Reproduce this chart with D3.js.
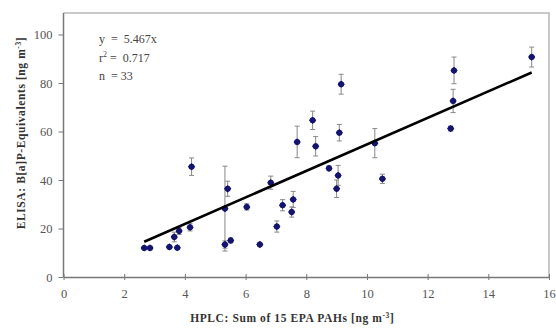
<!DOCTYPE html>
<html>
<head>
<meta charset="utf-8">
<script src="https://cdn.jsdelivr.net/npm/d3@7"></script>
<style>
  html, body { margin: 0; padding: 0; background: #fff; }
  svg { display: block; }
  text { font-family: "Liberation Serif", "DejaVu Serif", serif; }
</style>
</head>
<body>
<svg id="chart" width="556" height="330"></svg>
<script>
// HPLC sum of 15 EPA PAHs (ng m^-3)
const hplc = [2.66, 2.85, 3.49, 3.75, 3.65, 3.81, 4.17, 4.22, 5.32, 5.41, 5.32,
              5.51, 6.04, 6.47, 6.83, 7.03, 7.22, 7.52, 7.57, 7.70, 8.21, 8.31,
              8.75, 9.05, 9.00, 9.09, 9.15, 10.26, 10.51, 12.76, 12.84, 12.87, 15.43];
// ELISA B[a]P-equivalents (ng m^-3)
const elisa = [12.0, 12.0, 12.4, 12.1, 16.5, 19.0, 20.5, 45.5, 28.2, 36.4, 13.4,
               15.1, 28.9, 13.4, 38.9, 20.8, 29.6, 26.8, 32.0, 55.7, 64.6, 53.9,
               44.8, 41.9, 36.4, 59.5, 79.5, 55.2, 40.5, 61.2, 72.6, 85.2, 90.7];
// standard deviation of the ELISA replicates
const elisaSd = [0.5, 0.5, 0.5, 0.5, 2.0, 1.5, 1.5, 3.6, 17.5, 3.1, 1.5,
                 1.0, 1.3, 0.5, 2.7, 2.3, 2.3, 2.1, 3.3, 6.5, 3.8, 4.0,
                 1.0, 4.1, 3.6, 3.4, 4.1, 6.0, 1.9, 1.0, 4.8, 5.5, 4.1];

const xTicks = [0, 2, 4, 6, 8, 10, 12, 14, 16];
const yTicks = [0, 20, 40, 60, 80, 100];
const slope = 5.467;

const svg = d3.select("#chart");
const padL = 63.5, padR = 549, padB = 277, padT = 13;

const x = d3.scaleLinear().domain([0, 16]).range([padL, padR]);
const y = d3.scaleLinear().domain([0, 100]).range([padB, 34.5]);

// plot frame (light) on top and right
svg.append("path")
  .attr("d", `M${padL},${padT}H${padR}V${padB}`)
  .attr("fill", "none").attr("stroke", "#b8b8b8").attr("stroke-width", 1.5);

// y axis
const yAxis = svg.append("g").attr("transform", `translate(${padL},0)`)
  .call(d3.axisLeft(y).tickValues(yTicks).tickSize(5).tickPadding(6).tickSizeOuter(0));
yAxis.select(".domain").remove();
svg.append("line").attr("x1", padL).attr("x2", padL).attr("y1", padT).attr("y2", padB)
  .attr("stroke", "#777").attr("stroke-width", 1.5);

// x axis
const xAxis = svg.append("g").attr("transform", `translate(0,${padB})`)
  .call(d3.axisBottom(x).tickValues(xTicks).tickSize(3).tickPadding(9).tickSizeOuter(0));
xAxis.select(".domain").attr("stroke", "#777").attr("stroke-width", 1.5);
xAxis.selectAll(".tick line").attr("y1", -3);

svg.selectAll(".tick line").attr("stroke", "#777");
svg.selectAll(".tick text")
  .attr("fill", "#555").style("font-size", "12.5px")
  .style("font-family", "'Liberation Serif', serif");

// axis titles
const xt = svg.append("text")
  .attr("x", (padL + padR) / 2 - 14).attr("y", 322)
  .attr("text-anchor", "middle").attr("font-weight", "bold").attr("font-size", "11.5px")
  .attr("fill", "#333").attr("letter-spacing", "0.6px");
xt.append("tspan").text("HPLC: Sum of 15 EPA PAHs [ng m");
xt.append("tspan").attr("dy", -4).attr("font-size", "7.5px").text("-3");
xt.append("tspan").attr("dy", 4).text("]");

const yt = svg.append("text")
  .attr("transform", "translate(25,133) rotate(-90)")
  .attr("text-anchor", "middle").attr("font-weight", "bold").attr("font-size", "11.5px")
  .attr("fill", "#333").attr("letter-spacing", "0.6px");
yt.append("tspan").text("ELISA: B[a]P-Equivalents [ng m");
yt.append("tspan").attr("dy", -4).attr("font-size", "7.5px").text("-3");
yt.append("tspan").attr("dy", 4).text("]");

// regression statistics
const stats = svg.append("g").attr("fill", "#444").attr("font-size", "12px");
stats.append("text").attr("x", 99).attr("y", 43).attr("xml:space", "preserve").text("y  =  5.467x");
const r2 = stats.append("text").attr("x", 99).attr("y", 62).attr("xml:space", "preserve");
r2.append("tspan").text("r");
r2.append("tspan").attr("dy", -5).attr("font-size", "8px").text("2");
r2.append("tspan").attr("dy", 5).text(" =  0.717");
stats.append("text").attr("x", 99).attr("y", 80).attr("xml:space", "preserve").text("n  = 33");

const pts = hplc.map((v, i) => ({ x: v, y: elisa[i], sd: elisaSd[i] }));

// error bars
const eb = svg.append("g").attr("stroke", "#888").attr("stroke-width", 1);
pts.forEach(p => {
  const y0 = y(p.y - p.sd), y1 = y(p.y + p.sd), cx = x(p.x);
  eb.append("line").attr("x1", cx).attr("x2", cx).attr("y1", y0).attr("y2", y1);
  eb.append("line").attr("x1", cx - 2.5).attr("x2", cx + 2.5).attr("y1", y0).attr("y2", y0);
  eb.append("line").attr("x1", cx - 2.5).attr("x2", cx + 2.5).attr("y1", y1).attr("y2", y1);
});

// markers: rounded diamonds
const mk = svg.append("g").attr("fill", "#14146e");
const diamond = d3.symbol().type(d3.symbolDiamond2).size(34)();
pts.forEach(p => {
  mk.append("path")
    .attr("transform", `translate(${x(p.x)},${y(p.y)})`)
    .attr("d", diamond);
  mk.append("circle").attr("cx", x(p.x)).attr("cy", y(p.y)).attr("r", 3);
});

// regression line through the origin over the measured range
const [xmin, xmax] = d3.extent(hplc);
svg.append("line")
  .attr("x1", x(xmin)).attr("y1", y(slope * xmin))
  .attr("x2", x(xmax)).attr("y2", y(slope * xmax))
  .attr("stroke", "#000").attr("stroke-width", 2.6);
</script>
</body>
</html>
